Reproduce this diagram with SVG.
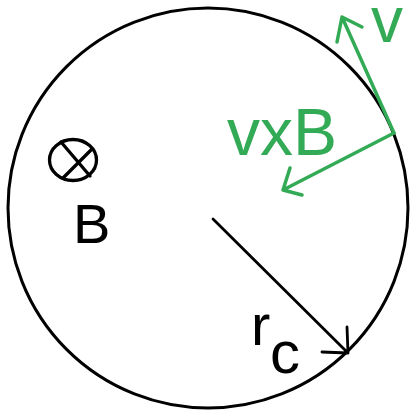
<svg xmlns="http://www.w3.org/2000/svg" width="411" height="411" viewBox="0 0 411 411">
<style>
.blk{fill:none;stroke:#000;stroke-linecap:round;stroke-linejoin:round}
.grn{fill:none;stroke:#33aa55;stroke-width:3.5;stroke-linecap:round;stroke-linejoin:round}
.t{font-family:"Liberation Sans",Arial,sans-serif}
</style>
<rect width="411" height="411" fill="#fff"/>
<g id="orbit"><circle class="blk" cx="208" cy="208" r="200" stroke-width="3"/></g>
<g id="field">
<ellipse class="blk" cx="73" cy="160" rx="23.5" ry="20.5" stroke-width="3.3"/>
<line class="blk" x1="61" y1="142" x2="90" y2="176" stroke-width="3.3"/>
<line class="blk" x1="92" y1="149" x2="63" y2="178" stroke-width="3.3"/>
<text class="t" x="73" y="243" font-size="56" fill="#000">B</text>
</g>
<g id="radius">
<text class="t" x="251" y="345" font-size="58" fill="#000">r</text>
<text class="t" x="270" y="373" font-size="60" fill="#000">c</text>
</g>
<g id="labels">
<text class="t" x="227" y="155" font-size="66" fill="#33aa55">vxB</text>
<text class="t" x="371" y="42" font-size="64" fill="#33aa55">v</text>
</g>
<g id="connectors">
<path class="blk" stroke-width="2.8" d="M213 219 L348 353 M347 327 L348 353 L322 352"/>
<path class="grn" d="M394 133 L342 17 M337 42 L342 17 L362 27"/>
<path class="grn" d="M394 133 L283 190 M290 168 L283 190 L302 195"/>
</g>
</svg>
